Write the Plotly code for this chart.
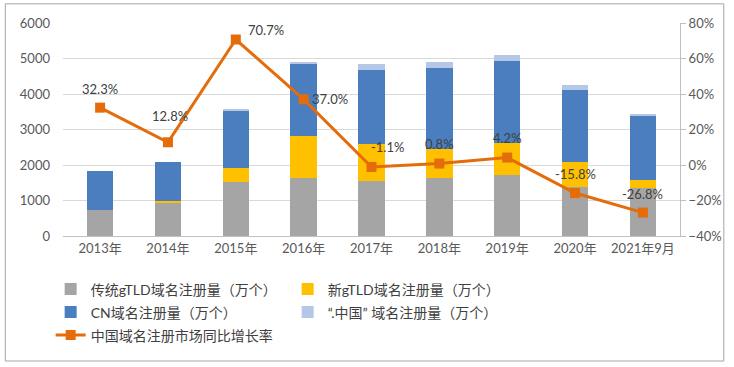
import plotly.graph_objects as go

categories = ["2013年", "2014年", "2015年", "2016年", "2017年", "2018年", "2019年", "2020年", "2021年9月"]
gtld_traditional = [743, 940, 1521, 1645, 1541, 1634, 1729, 1380, 1363]
gtld_new = [0, 40, 386, 1172, 1042, 817, 891, 696, 206]
cn_domains = [1087, 1105, 1634, 2056, 2085, 2273, 2310, 2028, 1831]
zhongguo_domains = [0, 0, 47, 15, 169, 177, 160, 141, 10]
growth_rate = [32.3, 12.8, 70.7, 37.0, -1.1, 0.8, 4.2, -15.8, -26.8]

names = ["传统gTLD域名注册量（万个）", "新gTLD域名注册量（万个）", "CN域名注册量（万个）",
         "“.中国” 域名注册量（万个）", "中国域名注册市场同比增长率"]

label_xshift = [0, 2, 30, 26, 16, 0, 0, 0, 0]
label_yshift = [19, 26, 10, 0, 20, 20, 20, 19, 19]

FONT = "Lato, 'Noto Sans CJK SC', sans-serif"

fig = go.Figure()
bar_colors = ["#A5A5A5", "#FFC000", "#4A7EBE", "#B4C7E7"]
bar_legends = ["legend", "legend", "legend2", "legend2"]
for vals, name, col, lg in zip([gtld_traditional, gtld_new, cn_domains, zhongguo_domains],
                               names[:4], bar_colors, bar_legends):
    fig.add_trace(go.Bar(x=categories, y=vals, name=name, legend=lg,
                         marker=dict(color=col, line=dict(width=0))))

fig.add_trace(go.Scatter(x=categories, y=growth_rate, name=names[4], yaxis="y2", mode="lines+markers",
                         legend="legend3",
                         line=dict(color="#E46C0A", width=3),
                         marker=dict(symbol="square", size=10, color="#E46C0A")))

for c, v, dx, dy in zip(categories, growth_rate, label_xshift, label_yshift):
    fig.add_annotation(x=c, y=v, xref="x", yref="y2", text=f"{v:.1f}%", showarrow=False,
                       xshift=dx, yshift=dy, font=dict(family=FONT, size=13, color="#404040"))

fig.add_shape(type="rect", xref="paper", yref="paper", x0=-0.0935, x1=1.071, y0=-0.587, y1=1.09,
              line=dict(color="#A6A6A6", width=1), fillcolor="rgba(0,0,0,0)")

legend_style = dict(orientation="h", x=-0.02, xanchor="left", yanchor="top",
                    traceorder="normal", entrywidth=192, entrywidthmode="pixels",
                    font=dict(family=FONT, size=14, color="#404040"), bgcolor="rgba(0,0,0,0)")

fig.update_layout(
    width=734, height=367,
    margin=dict(l=63, r=51, t=23, b=131),
    barmode="stack", bargap=0.61,
    paper_bgcolor="white", plot_bgcolor="white",
    font=dict(family=FONT, size=13, color="#595959"),
    xaxis=dict(showgrid=False, showline=True, linecolor="#BFBFBF", linewidth=1, ticks="",
               tickfont=dict(size=13, color="#595959")),
    yaxis=dict(range=[0, 6000], dtick=1000, showgrid=True, gridcolor="#D9D9D9", gridwidth=1,
               zeroline=False, showline=False, ticklabelstandoff=12,
               tickfont=dict(size=13, color="#595959")),
    yaxis2=dict(range=[-40, 80], dtick=20, overlaying="y", side="right", showgrid=False,
                zeroline=False, showline=True, linecolor="#BFBFBF", ticks="outside", ticklen=5,
                tickcolor="#BFBFBF", ticksuffix="%", tickfont=dict(size=13, color="#595959")),
    legend=dict(y=-0.176, **legend_style),
    legend2=dict(y=-0.284, **legend_style),
    legend3=dict(y=-0.392, **legend_style),
    showlegend=True,
)

fig.write_html("out.html", config={"displayModeBar": False},
               post_script="document.body.style.margin='0';document.body.style.overflow='hidden';")
